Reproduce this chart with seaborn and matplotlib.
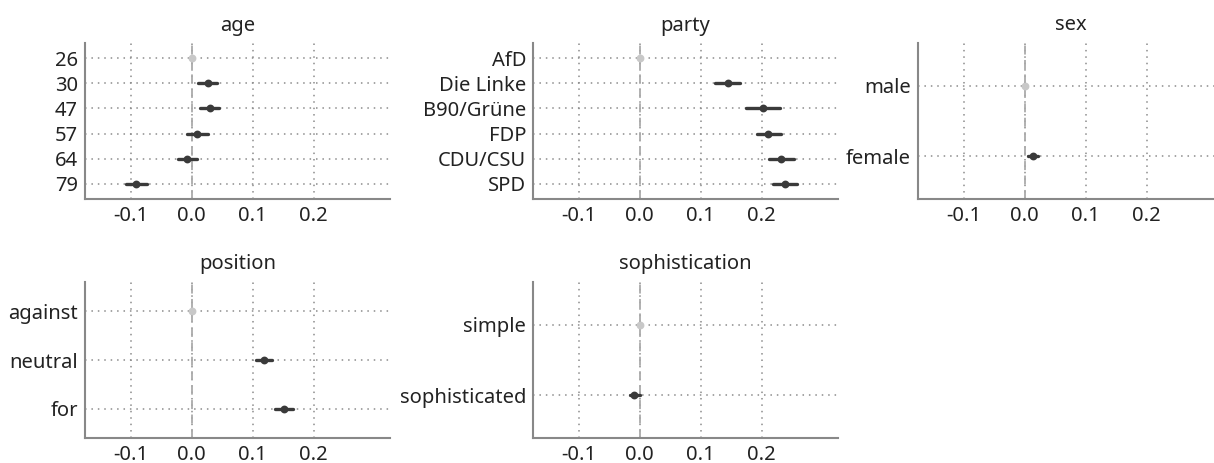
import pandas as pd
import matplotlib
matplotlib.use("Agg")
import matplotlib.pyplot as plt
import seaborn as sns

# effect estimates (AMCE-style) with 95% interval, first level is the reference
age_levels = ["26", "30", "47", "57", "64", "79"]
age_est = [0.0, 0.026, 0.030, 0.009, -0.008, -0.092]
age_lo = [0.0, 0.011, 0.013, -0.007, -0.023, -0.108]
age_hi = [0.0, 0.042, 0.045, 0.026, 0.009, -0.074]

party_levels = ["AfD", "Die Linke", "B90/Grüne", "FDP", "CDU/CSU", "SPD"]
party_est = [0.0, 0.144, 0.202, 0.211, 0.232, 0.238]
party_lo = [0.0, 0.123, 0.174, 0.192, 0.212, 0.218]
party_hi = [0.0, 0.164, 0.230, 0.231, 0.253, 0.257]

sex_levels = ["male", "female"]
sex_est = [0.0, 0.013]
sex_lo = [0.0, 0.005]
sex_hi = [0.0, 0.022]

position_levels = ["against", "neutral", "for"]
position_est = [0.0, 0.118, 0.151]
position_lo = [0.0, 0.106, 0.136]
position_hi = [0.0, 0.132, 0.166]

soph_levels = ["simple", "sophisticated"]
soph_est = [0.0, -0.010]
soph_lo = [0.0, -0.016]
soph_hi = [0.0, 0.001]

x_ticks = [-0.1, 0.0, 0.1, 0.2]
x_ticklabels = ["-0.1", "0.0", "0.1", "0.2"]

panels = [
    ("age", age_levels, age_est, age_lo, age_hi),
    ("party", party_levels, party_est, party_lo, party_hi),
    ("sex", sex_levels, sex_est, sex_lo, sex_hi),
    ("position", position_levels, position_est, position_lo, position_hi),
    ("sophistication", soph_levels, soph_est, soph_lo, soph_hi),
]


def to_long(levels, est, lo, hi):
    # three rows per level (lo, est, hi) so median + full range gives the bar
    rows = []
    for i, lev in enumerate(levels):
        kind = "ref" if i == 0 else "est"
        for v in (lo[i], est[i], hi[i]):
            rows.append({"level": lev, "value": v, "kind": kind})
    return pd.DataFrame(rows)


sns.set_theme(style="white")
plt.rcParams["font.family"] = ["Noto Sans", "DejaVu Sans"]

W, H = 1214, 463
fig = plt.figure(figsize=(W / 100, H / 100), dpi=100)

# axes boxes in pixels: left, top, right, bottom
boxes = [
    (85, 43, 390, 199),
    (533, 43, 838, 199),
    (918, 43, 1223, 199),
    (85, 282, 390, 438),
    (533, 282, 838, 438),
]

for (name, levels, est, lo, hi), (l, t, r, b) in zip(panels, boxes):
    ax = fig.add_axes([l / W, 1 - b / H, (r - l) / W, (b - t) / H])
    df = to_long(levels, est, lo, hi)
    ax.axvline(0, color="#aaaaaa", lw=1.3, ls=(0, (5, 3)), zorder=1)
    sns.pointplot(
        data=df, x="value", y="level", hue="kind", order=levels,
        hue_order=["ref", "est"],
        palette={"ref": "#c8c8c8", "est": "#3a3a3a"},
        estimator="median", errorbar=("pi", 100),
        linestyle="none", markers="o", markersize=3.6,
        err_kws={"linewidth": 2.4}, dodge=False, legend=False, ax=ax,
    )
    ax.set_xlim(-0.175, 0.325)
    ax.set_ylim(len(levels) - 1 + 0.6, -0.6)
    ax.set_xticks(x_ticks)
    ax.set_xticklabels(x_ticklabels)
    ax.set_xlabel("")
    ax.set_ylabel("")
    ax.set_title(name, fontsize=14.5, color="#222222", pad=9)
    ax.grid(True, axis="both", ls=(0, (1, 3.2)), color="#8c8c8c", lw=1.1)
    ax.set_axisbelow(True)
    for s in ["top", "right"]:
        ax.spines[s].set_visible(False)
    for s in ["left", "bottom"]:
        ax.spines[s].set_color("#888888")
        ax.spines[s].set_linewidth(1.5)
    ax.tick_params(length=0, labelsize=14.5, labelcolor="#222222", pad=5)

fig.savefig("out.png", dpi=100)
